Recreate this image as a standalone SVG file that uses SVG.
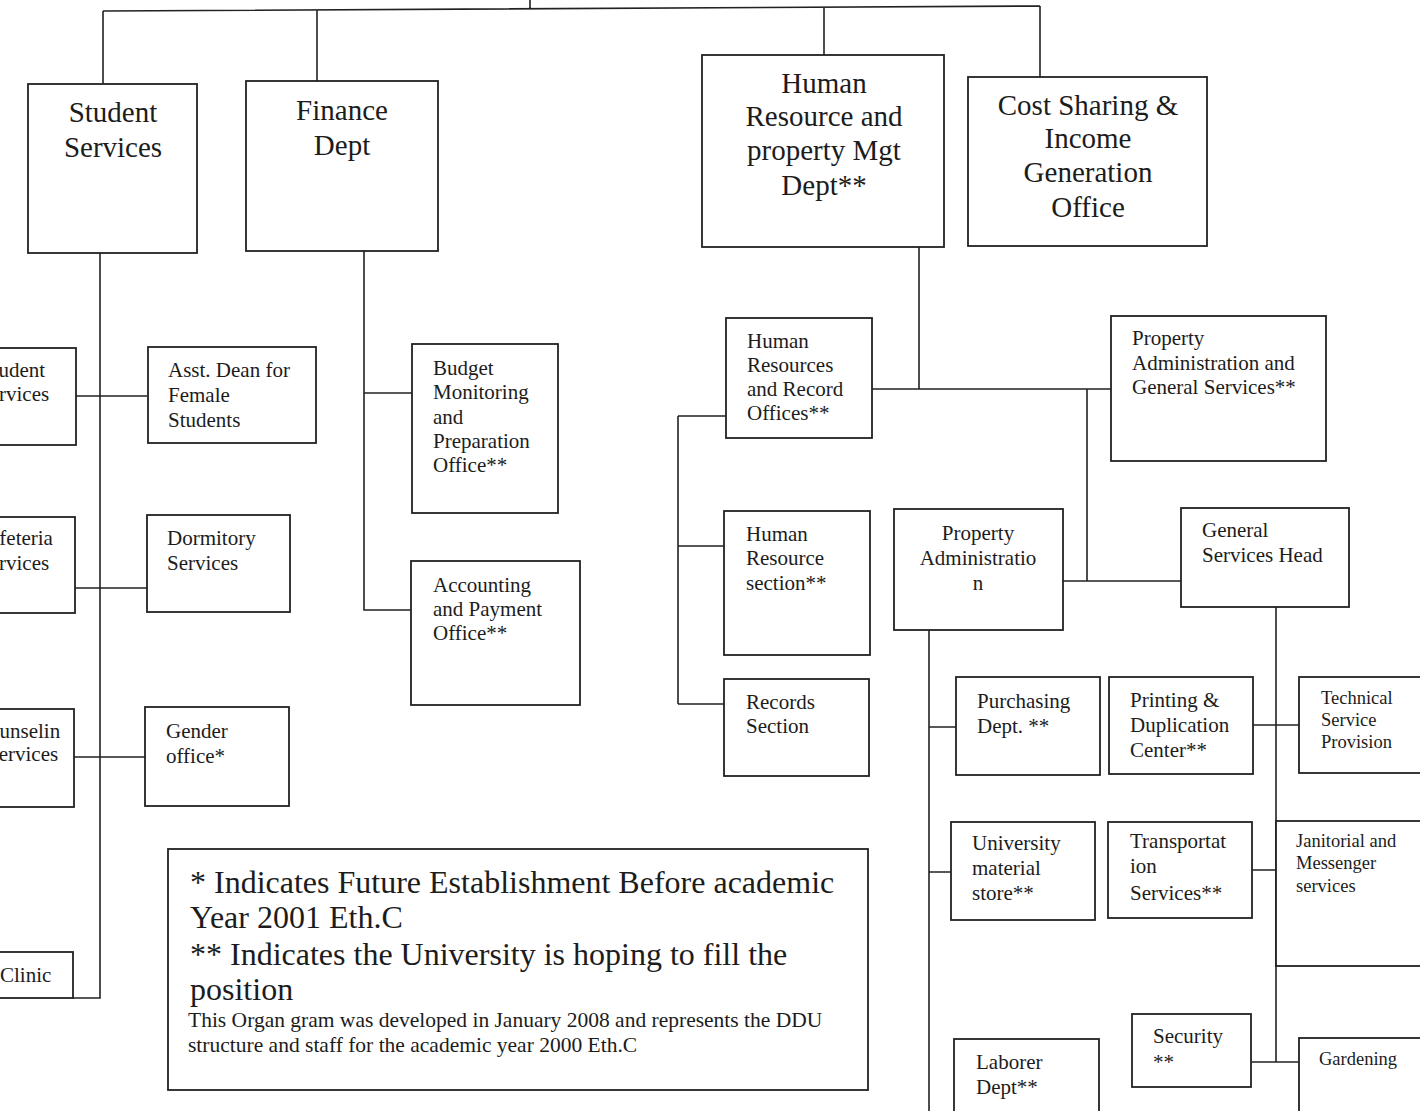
<svg xmlns="http://www.w3.org/2000/svg" width="1420" height="1111" viewBox="0 0 1420 1111">
<style>
.bg{fill:#fff}
.box{fill:#fff;stroke:#222;stroke-width:1.8}
.ln{stroke:#222;stroke-width:1.6;fill:none}
.t{font-family:"Liberation Serif","Times New Roman",serif;fill:#1c1c1c}
.big{font-size:29px}
.sm{font-size:21px}
.xs{font-size:18.5px}
.lg{font-size:32px}
.note{font-size:21.5px}
.mid{text-anchor:middle}
</style>
<rect class="bg" x="0" y="0" width="1420" height="1111"/>
<g id="connectors">
  <path class="ln" d="M530,0 V8 M103,11 L1040,6 M103,11 V84 M317,10 V81 M824,7 V55 M1040,6 V77"/>
  <path class="ln" d="M100,253 V998 H73 M76,396 H147 M75,588 H147 M74,757 H145"/>
  <path class="ln" d="M364,251 V610 H411 M364,393 H412"/>
  <path class="ln" d="M919,246 V389 M872,389 H1111 M1087,389 V581 M1063,581 H1181"/>
  <path class="ln" d="M678,416 V704 M678,416 H726 M678,546 H724 M678,704 H724"/>
  <path class="ln" d="M929,630 V1111 M929,727 H956 M929,872 H951"/>
  <path class="ln" d="M1276,607 V1062 M1253,725 H1299 M1252,870 H1276 M1251,1062 H1299"/>
</g>
<g id="student-services">
  <rect class="box" x="28" y="84" width="169" height="169"/>
  <text class="t big mid" x="113" y="122">Student</text>
  <text class="t big mid" x="113" y="157">Services</text>
</g>
<g id="finance-dept">
  <rect class="box" x="246" y="81" width="192" height="170"/>
  <text class="t big mid" x="342" y="120">Finance</text>
  <text class="t big mid" x="342" y="155">Dept</text>
</g>
<g id="hr-property-mgt">
  <rect class="box" x="702" y="55" width="242" height="192"/>
  <text class="t big mid" x="824" y="93">Human</text>
  <text class="t big mid" x="824" y="126">Resource and</text>
  <text class="t big mid" x="824" y="160">property Mgt</text>
  <text class="t big mid" x="824" y="195">Dept**</text>
</g>
<g id="cost-sharing">
  <rect class="box" x="968" y="77" width="239" height="169"/>
  <text class="t big mid" x="1088" y="115">Cost Sharing &amp;</text>
  <text class="t big mid" x="1088" y="148">Income</text>
  <text class="t big mid" x="1088" y="182">Generation</text>
  <text class="t big mid" x="1088" y="217">Office</text>
</g>
<g id="student-services-sub">
  <rect class="box" x="-10" y="348" width="86" height="97"/>
  <text class="t sm" x="-19" y="377">Student</text>
  <text class="t sm" x="-22" y="401">Services</text>
</g>
<g id="asst-dean">
  <rect class="box" x="148" y="347" width="168" height="96"/>
  <text class="t sm" x="168" y="377">Asst. Dean for</text>
  <text class="t sm" x="168" y="402">Female</text>
  <text class="t sm" x="168" y="427">Students</text>
</g>
<g id="cafeteria">
  <rect class="box" x="-10" y="517" width="85" height="96"/>
  <text class="t sm" x="-24" y="545">Cafeteria</text>
  <text class="t sm" x="-22" y="570">Services</text>
</g>
<g id="dormitory">
  <rect class="box" x="147" y="515" width="143" height="97"/>
  <text class="t sm" x="167" y="545">Dormitory</text>
  <text class="t sm" x="167" y="570">Services</text>
</g>
<g id="counseling">
  <rect class="box" x="-10" y="709" width="84" height="98"/>
  <text class="t sm" x="-25" y="738">Counselin</text>
  <text class="t sm" x="-13" y="761">Services</text>
</g>
<g id="gender-office">
  <rect class="box" x="145" y="707" width="144" height="99"/>
  <text class="t sm" x="166" y="738">Gender</text>
  <text class="t sm" x="166" y="763">office*</text>
</g>
<g id="clinic">
  <rect class="box" x="-10" y="952" width="83" height="46"/>
  <text class="t sm" x="0" y="982">Clinic</text>
</g>
<g id="budget">
  <rect class="box" x="412" y="344" width="146" height="169"/>
  <text class="t sm" x="433" y="375">Budget</text>
  <text class="t sm" x="433" y="399">Monitoring</text>
  <text class="t sm" x="433" y="424">and</text>
  <text class="t sm" x="433" y="448">Preparation</text>
  <text class="t sm" x="433" y="472">Office**</text>
</g>
<g id="accounting">
  <rect class="box" x="411" y="561" width="169" height="144"/>
  <text class="t sm" x="433" y="592">Accounting</text>
  <text class="t sm" x="433" y="616">and Payment</text>
  <text class="t sm" x="433" y="640">Office**</text>
</g>
<g id="hr-record-offices">
  <rect class="box" x="726" y="318" width="146" height="120"/>
  <text class="t sm" x="747" y="348">Human</text>
  <text class="t sm" x="747" y="372">Resources</text>
  <text class="t sm" x="747" y="396">and Record</text>
  <text class="t sm" x="747" y="420">Offices**</text>
</g>
<g id="hr-section">
  <rect class="box" x="724" y="511" width="146" height="144"/>
  <text class="t sm" x="746" y="541">Human</text>
  <text class="t sm" x="746" y="565">Resource</text>
  <text class="t sm" x="746" y="590">section**</text>
</g>
<g id="records-section">
  <rect class="box" x="724" y="679" width="145" height="97"/>
  <text class="t sm" x="746" y="709">Records</text>
  <text class="t sm" x="746" y="733">Section</text>
</g>
<g id="property-admin-gs">
  <rect class="box" x="1111" y="316" width="215" height="145"/>
  <text class="t sm" x="1132" y="345">Property</text>
  <text class="t sm" x="1132" y="370">Administration and</text>
  <text class="t sm" x="1132" y="394">General Services**</text>
</g>
<g id="property-admin">
  <rect class="box" x="894" y="509" width="169" height="121"/>
  <text class="t sm mid" x="978" y="540">Property</text>
  <text class="t sm mid" x="978" y="565">Administratio</text>
  <text class="t sm mid" x="978" y="590">n</text>
</g>
<g id="gs-head">
  <rect class="box" x="1181" y="508" width="168" height="99"/>
  <text class="t sm" x="1202" y="537">General</text>
  <text class="t sm" x="1202" y="562">Services Head</text>
</g>
<g id="purchasing">
  <rect class="box" x="956" y="677" width="144" height="98"/>
  <text class="t sm" x="977" y="708">Purchasing</text>
  <text class="t sm" x="977" y="733">Dept. **</text>
</g>
<g id="printing">
  <rect class="box" x="1109" y="677" width="144" height="97"/>
  <text class="t sm" x="1130" y="707">Printing &amp;</text>
  <text class="t sm" x="1130" y="732">Duplication</text>
  <text class="t sm" x="1130" y="757">Center**</text>
</g>
<g id="technical">
  <rect class="box" x="1299" y="677" width="140" height="96"/>
  <text class="t xs" x="1321" y="704">Technical</text>
  <text class="t xs" x="1321" y="726">Service</text>
  <text class="t xs" x="1321" y="748">Provision</text>
</g>
<g id="university-store">
  <rect class="box" x="951" y="822" width="144" height="98"/>
  <text class="t sm" x="972" y="850">University</text>
  <text class="t sm" x="972" y="875">material</text>
  <text class="t sm" x="972" y="900">store**</text>
</g>
<g id="transportation">
  <rect class="box" x="1108" y="822" width="144" height="96"/>
  <text class="t sm" x="1130" y="848">Transportat</text>
  <text class="t sm" x="1130" y="873">ion</text>
  <text class="t sm" x="1130" y="900">Services**</text>
</g>
<g id="janitorial">
  <rect class="box" x="1276" y="821" width="164" height="145"/>
  <text class="t xs" x="1296" y="847">Janitorial and</text>
  <text class="t xs" x="1296" y="869">Messenger</text>
  <text class="t xs" x="1296" y="892">services</text>
</g>
<g id="security">
  <rect class="box" x="1132" y="1014" width="119" height="73"/>
  <text class="t sm" x="1153" y="1043">Security</text>
  <text class="t sm" x="1153" y="1069">**</text>
</g>
<g id="gardening">
  <rect class="box" x="1299" y="1038" width="140" height="90"/>
  <text class="t xs" x="1319" y="1065">Gardening</text>
</g>
<g id="laborer">
  <rect class="box" x="954" y="1039" width="145" height="90"/>
  <text class="t sm" x="976" y="1069">Laborer</text>
  <text class="t sm" x="976" y="1094">Dept**</text>
</g>
<g id="legend">
  <rect class="box" x="168" y="849" width="700" height="241"/>
  <text class="t lg" x="190" y="893">* Indicates Future Establishment Before academic</text>
  <text class="t lg" x="190" y="928">Year 2001 Eth.C</text>
  <text class="t lg" x="190" y="965">** Indicates the University is hoping to fill the</text>
  <text class="t lg" x="190" y="1000">position</text>
  <text class="t note" x="188" y="1027">This Organ gram was developed in January 2008 and represents the DDU</text>
  <text class="t note" x="188" y="1052">structure and staff for the academic year 2000 Eth.C</text>
</g>
</svg>
